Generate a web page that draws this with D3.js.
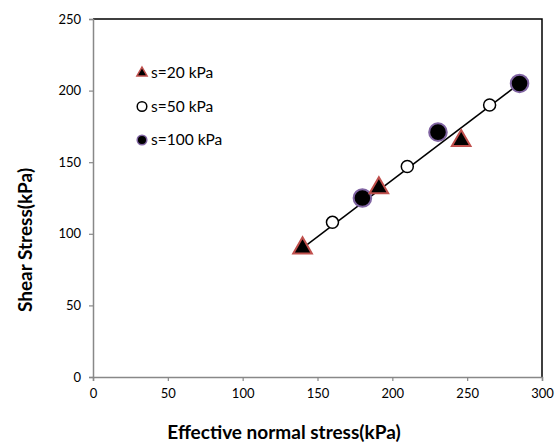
<!DOCTYPE html>
<html>
<head>
<meta charset="utf-8">
<script src="https://cdn.jsdelivr.net/npm/d3@7"></script>
<style>
  body { margin: 0; background: #fff; }
  svg text { font-family: Lato, "Open Sans", sans-serif; }
</style>
</head>
<body>
<script>
// data
const s20x = [140, 191, 246];
const s20y = [90, 132, 165];
const s50x = [160, 210, 265];
const s50y = [108, 147, 190];
const s100x = [180, 230.5, 285];
const s100y = [125, 171, 205];
const lineX = [140, 285];
const lineY = [90, 205];
const xTicks = [0, 50, 100, 150, 200, 250, 300];
const yTicks = [0, 50, 100, 150, 200, 250];
const legendLabels = ["s=20 kPa", "s=50 kPa", "s=100 kPa"];

const W = 559, H = 444;
const margin = {top: 19, right: 17, bottom: 67, left: 93};
const w = W - margin.left - margin.right,
      h = H - margin.top - margin.bottom;

const svg = d3.select("body").append("svg")
  .attr("width", W).attr("height", H);
const g = svg.append("g")
  .attr("transform", "translate(" + margin.left + "," + margin.top + ")");

const x = d3.scaleLinear().domain([0, 300]).range([0, w]);
const y = d3.scaleLinear().domain([0, 250]).range([h, 0]);

// frame on top and right
g.append("path")
  .attr("d", "M0,0H" + w + "V" + h)
  .attr("fill", "none").attr("stroke", "#000").attr("stroke-width", 1.5);

// axes
const xAxis = g.append("g")
  .attr("transform", "translate(0," + h + ")")
  .call(d3.axisBottom(x).tickValues(xTicks).tickSize(4).tickPadding(8));
const yAxis = g.append("g")
  .call(d3.axisLeft(y).tickValues(yTicks).tickSize(4).tickPadding(8));
[xAxis, yAxis].forEach(a => {
  a.select(".domain").attr("stroke", "#888").attr("stroke-width", 1.5);
  a.selectAll(".tick line").attr("stroke", "#888").attr("stroke-width", 1.2);
  a.selectAll("text").attr("fill", "#000").style("font-size", "13px")
    .style("font-family", "Lato, 'Open Sans', sans-serif");
});

// trend line
g.append("line")
  .attr("x1", x(lineX[0])).attr("y1", y(lineY[0]))
  .attr("x2", x(lineX[1])).attr("y2", y(lineY[1]))
  .attr("stroke", "#000").attr("stroke-width", 1.5);

const tri = d3.symbol().type(d3.symbolTriangle);

// s=100 filled circles
g.selectAll(".c100").data(s100x).enter().append("circle")
  .attr("cx", d => x(d)).attr("cy", (d, i) => y(s100y[i]))
  .attr("r", 8.8).attr("fill", "#000")
  .attr("stroke", "#8064a2").attr("stroke-width", 2);

// s=50 open circles
g.selectAll(".c50").data(s50x).enter().append("circle")
  .attr("cx", d => x(d)).attr("cy", (d, i) => y(s50y[i]))
  .attr("r", 6).attr("fill", "#fff")
  .attr("stroke", "#000").attr("stroke-width", 1.5);

// s=20 triangles
g.selectAll(".t20").data(s20x).enter().append("path")
  .attr("d", tri.size(150))
  .attr("transform", (d, i) => "translate(" + x(d) + "," + y(s20y[i]) + ")")
  .attr("fill", "#000").attr("stroke", "#c0504d").attr("stroke-width", 2);

// legend
const leg = svg.append("g").attr("transform", "translate(142,73)");
legendLabels.forEach((lab, i) => {
  const row = leg.append("g").attr("transform", "translate(0," + (i * 33.5) + ")");
  if (i === 0) {
    row.append("path").attr("d", d3.symbol().type(d3.symbolTriangle).size(45)())
      .attr("fill", "#000").attr("stroke", "#c0504d").attr("stroke-width", 1.5);
  } else if (i === 1) {
    row.append("circle").attr("r", 4.8).attr("fill", "#fff")
      .attr("stroke", "#000").attr("stroke-width", 1.5);
  } else {
    row.append("circle").attr("r", 4.8).attr("fill", "#000")
      .attr("stroke", "#8064a2").attr("stroke-width", 1.5);
  }
  row.append("text").attr("x", 9).attr("y", 5)
    .style("font-size", "15.5px").text(lab);
});

// axis titles
svg.append("text")
  .attr("x", 284).attr("y", 439)
  .attr("text-anchor", "middle")
  .style("font-size", "19px").style("font-weight", "bold")
  .text("Effective normal stress(kPa)");
svg.append("text")
  .attr("transform", "translate(32,240) rotate(-90)")
  .attr("text-anchor", "middle")
  .style("font-size", "19px").style("font-weight", "bold")
  .text("Shear Stress(kPa)");
</script>
</body>
</html>
